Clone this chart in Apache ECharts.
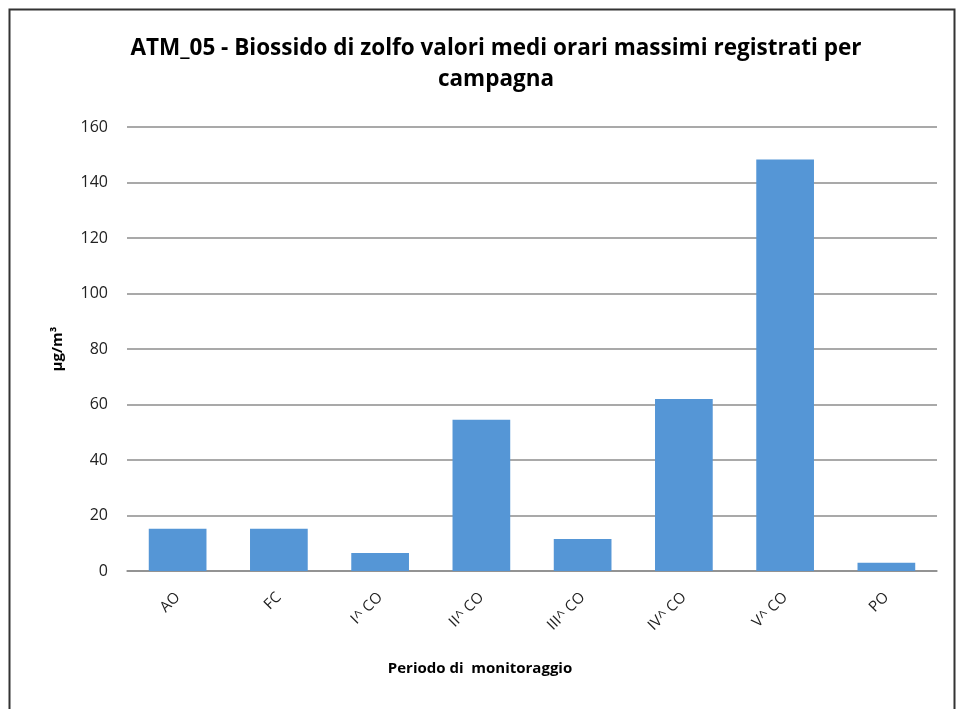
<!DOCTYPE html>
<html>
<head>
<meta charset="utf-8">
<script src="https://cdn.jsdelivr.net/npm/echarts@6/dist/echarts.min.js"></script>
<style>
html,body{margin:0;padding:0;background:#fff;}
#chart{width:956px;height:709px;}
</style>
</head>
<body>
<div id="chart"></div>
<script>
const categories = ["AO", "FC", "I^ CO", "II^ CO", "III^ CO", "IV^ CO", "V^ CO", "PO"];
const values = [15.2, 15.2, 6.5, 54.5, 11.5, 62.0, 148.3, 3.0];
const yTicks = [0, 20, 40, 60, 80, 100, 120, 140, 160];
const titleText = "ATM_05 - Biossido di zolfo valori medi orari massimi registrati per\ncampagna";
const yName = "μg/m³";
const xName = "Periodo di  monitoraggio";

const FONT = "'Open Sans', Lato, sans-serif";
const chart = echarts.init(document.getElementById('chart'), null, {renderer: 'canvas'});
chart.setOption({
  backgroundColor: '#ffffff',
  animation: false,
  title: {
    text: titleText,
    left: 491, top: 28, textAlign: 'center',
    textStyle: {fontFamily: FONT, fontSize: 22.5, fontWeight: 'bold', color: '#000', lineHeight: 31}
  },
  grid: {left: 127, right: 19, top: 127, bottom: 138},
  xAxis: {
    type: 'category',
    data: categories,
    name: xName,
    nameLocation: 'middle',
    nameGap: 90,
    nameTextStyle: {fontFamily: FONT, fontSize: 15, fontWeight: 'bold', color: '#000', padding: [0, 104, 0, 0]},
    axisLine: {show: true, lineStyle: {color: '#8c8c8c', width: 1.5}},
    axisTick: {show: false},
    axisLabel: {rotate: 45, fontFamily: FONT, fontSize: 15, color: '#222', margin: 24}
  },
  yAxis: {
    type: 'value',
    min: 0, max: 160, interval: 20,
    name: yName,
    nameLocation: 'middle',
    nameGap: 62,
    nameTextStyle: {fontFamily: FONT, fontSize: 15, fontWeight: 'bold', color: '#000'},
    axisLine: {show: false},
    axisTick: {show: false},
    axisLabel: {fontFamily: FONT, fontSize: 16, color: '#222', margin: 19,
      formatter: v => yTicks.includes(v) ? String(v) : ''},
    splitLine: {lineStyle: {color: '#8c8c8c', width: 1.5}}
  },
  series: [{
    type: 'bar',
    data: values,
    barWidth: '57%',
    itemStyle: {color: '#5596d6'}
  }],
  graphic: [{
    type: 'rect',
    shape: {x: 9.5, y: 9.5, width: 945, height: 720},
    style: {fill: 'none', stroke: '#333', lineWidth: 2},
    silent: true
  }]
});
</script>
</body>
</html>
